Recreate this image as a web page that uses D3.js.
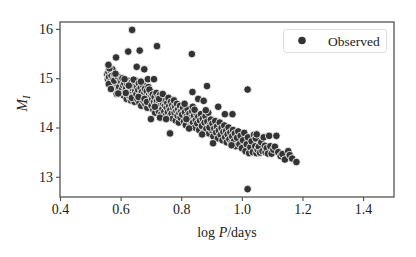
<!DOCTYPE html>
<html><head><meta charset="utf-8">
<script src="https://cdn.jsdelivr.net/npm/d3@7"></script>
<style>
html,body{margin:0;padding:0;background:#fff;}
svg{display:block;font-family:"Liberation Serif","Times New Roman",serif;}
svg text{font-family:"Liberation Serif","Times New Roman",serif;}
</style></head>
<body><svg id="c" width="416" height="257"></svg>
<script>
const logP = [
0.556,0.558,0.560,0.562,0.565,0.567,0.570,0.572,0.575,0.577,0.580,0.582,0.584,0.586,0.588,0.590,0.592,0.594,0.596,0.598,0.600,0.561,0.568,0.573,0.579,0.587,0.591,0.595,0.599,0.563,0.583,0.560,
0.602,0.604,0.606,0.608,0.610,0.612,0.614,0.616,0.618,0.620,0.622,0.624,0.626,0.628,0.630,0.632,0.634,0.636,0.638,0.640,0.642,0.644,0.646,0.648,0.650,0.613,0.627,0.637,0.643,0.617,
0.652,0.654,0.656,0.658,0.660,0.662,0.664,0.666,0.668,0.670,0.672,0.674,0.676,0.678,0.680,0.682,0.684,0.686,0.688,0.690,0.692,0.694,0.696,0.698,0.700,0.659,0.667,0.679,0.687,0.695,
0.702,0.704,0.706,0.708,0.710,0.712,0.714,0.716,0.718,0.720,0.722,0.724,0.726,0.728,0.730,0.732,0.734,0.736,0.738,0.740,0.742,0.744,0.746,0.748,0.750,0.713,0.727,0.739,
0.752,0.754,0.756,0.758,0.760,0.762,0.764,0.766,0.768,0.770,0.772,0.774,0.776,0.778,0.780,0.782,0.784,0.786,0.788,0.790,0.792,0.794,0.796,0.798,0.800,
0.803,0.806,0.809,0.812,0.815,0.818,0.821,0.824,0.827,0.830,0.833,0.836,0.839,0.842,0.845,0.848,0.850,0.811,0.826,0.838,0.817,0.844,
0.853,0.856,0.859,0.862,0.865,0.868,0.871,0.874,0.877,0.880,0.883,0.886,0.889,0.892,0.895,0.898,0.900,0.869,0.881,0.893,
0.903,0.906,0.909,0.912,0.915,0.918,0.921,0.924,0.927,0.930,0.933,0.936,0.939,0.942,0.945,0.948,0.905,0.950,
0.953,0.956,0.959,0.962,0.965,0.968,0.971,0.974,0.977,0.980,0.984,0.988,0.992,0.996,1.000,
1.004,1.008,1.012,1.016,1.020,1.024,1.028,1.032,1.036,1.040,1.044,1.048,1.052,1.046,
1.056,1.060,1.064,1.068,1.072,1.076,1.078,1.082,1.086,1.090,1.094,1.098,1.104,1.109,1.114,1.120,1.128,1.134,1.142,1.153,1.158,1.166,1.180,
0.638,0.720,0.663,0.625,0.585,0.653,0.678,0.835,0.885,1.019,0.837,0.856,0.874,0.922,0.944,0.969,1.049,0.966,0.700,0.730,0.750,0.763,1.019,0.592,0.690,0.710
];
const magI = [
15.08,14.98,15.12,15.02,14.92,15.15,15.05,14.85,14.97,15.10,14.90,15.01,14.80,14.94,15.06,14.87,14.75,14.99,14.91,14.70,14.83,14.88,14.78,15.18,14.95,14.68,15.03,14.82,14.96,15.20,15.09,15.27,
14.93,14.77,15.00,14.86,14.65,14.90,14.72,14.97,14.80,14.58,14.88,14.69,14.94,14.76,14.62,14.84,14.55,14.91,14.70,14.79,14.63,14.86,14.52,14.74,14.95,14.98,14.85,14.60,14.97,14.70,
14.68,14.82,14.57,14.76,14.90,14.50,14.66,14.80,14.44,14.72,14.60,14.86,14.53,14.69,14.78,14.47,14.63,14.74,14.40,14.56,14.82,14.66,14.49,14.61,14.72,14.62,14.93,14.58,14.52,14.77,
14.44,14.58,14.67,14.36,14.52,14.62,14.30,14.47,14.70,14.55,14.40,14.61,14.33,14.50,14.66,14.44,14.27,14.56,14.38,14.49,14.62,14.32,14.45,14.54,14.25,14.42,14.58,14.68,
14.40,14.50,14.31,14.60,14.43,14.22,14.36,14.52,14.28,14.45,14.18,14.39,14.55,14.30,14.42,14.14,14.34,14.48,14.24,14.37,14.10,14.29,14.44,14.20,14.33,
14.26,14.40,14.12,14.31,14.05,14.22,14.37,14.16,14.28,14.02,14.20,14.33,14.10,14.24,14.00,14.15,14.29,14.48,13.98,14.42,14.17,14.36,
14.08,14.22,13.95,14.14,14.27,14.03,14.18,13.90,14.10,14.23,13.97,14.12,14.30,13.88,14.05,14.16,13.95,13.86,14.35,14.00,
14.08,13.82,13.98,14.13,13.90,14.02,13.78,13.94,14.10,13.85,13.99,13.74,13.91,14.04,13.80,13.93,13.68,13.70,
13.86,14.00,13.76,13.90,13.68,13.82,13.95,13.72,13.88,13.62,13.79,13.92,13.66,13.83,13.58,
13.74,13.89,13.52,13.66,13.80,13.48,13.60,13.72,13.50,13.85,13.62,13.48,13.55,13.78,
13.61,13.49,13.70,13.52,13.80,13.63,13.50,13.58,13.47,13.83,13.62,13.47,13.55,13.61,13.83,13.50,13.42,13.46,13.35,13.52,13.44,13.37,13.30,
15.98,15.65,15.56,15.54,15.42,15.23,15.18,15.49,14.84,14.77,14.72,14.58,14.54,14.42,14.27,14.27,13.86,13.64,14.17,14.20,14.17,13.88,12.75,14.69,14.98,14.98
];
const xTicks = [0.4,0.6,0.8,1.0,1.2,1.4];
const yTicks = [13,14,15,16];
const legendLabel = "Observed";

const serif = "'Liberation Serif','Times New Roman',serif";
const svg = d3.select("#c");
const L=60, R=394, T=22, B=197;
const x = d3.scaleLinear().domain([0.4,1.502]).range([L,R]);
const y = d3.scaleLinear().domain([12.59,16.14]).range([B,T]);
const axisColor = "#4d4d4d";

const pts = logP.map((v,i)=>({x:v,y:magI[i]}));
svg.append("g").selectAll("circle").data(pts).join("circle")
  .attr("cx",d=>x(d.x)).attr("cy",d=>y(d.y)).attr("r",3.8)
  .attr("fill","#333333").attr("stroke","#ffffff").attr("stroke-width",0.8);

// frame
svg.append("rect").attr("x",L).attr("y",T).attr("width",R-L).attr("height",B-T)
  .attr("fill","none").attr("stroke",axisColor).attr("stroke-width",1.25);

const xa = svg.append("g").attr("transform",`translate(0,${B})`)
  .call(d3.axisBottom(x).tickValues(xTicks).tickFormat(d3.format(".1f")).tickSize(4).tickPadding(3));
const ya = svg.append("g").attr("transform",`translate(${L},0)`)
  .call(d3.axisLeft(y).tickValues(yTicks).tickFormat(d3.format("d")).tickSize(4).tickPadding(3));
[xa,ya].forEach(a=>{
  a.attr("font-family",serif).attr("font-size",14);
  a.select(".domain").remove();
  a.selectAll(".tick line").attr("stroke",axisColor).attr("stroke-width",1.1);
  a.selectAll(".tick text").attr("fill","#222222");
});

// x label
const xl = svg.append("text").attr("x",(L+R)/2).attr("y",237).attr("text-anchor","middle")
  .attr("fill","#222").attr("font-family",serif).attr("font-size",14);
xl.append("tspan").text("log ");
xl.append("tspan").attr("font-style","italic").text("P");
xl.append("tspan").text("/days");

// y label
const yl = svg.append("text").attr("transform",`translate(27,${(T+B)/2-6}) rotate(-90)`)
  .attr("text-anchor","middle").attr("fill","#222").attr("font-family",serif).attr("font-size",15).attr("font-style","italic");
yl.append("tspan").text("M");
yl.append("tspan").attr("dy",3).attr("font-size",10.5).text("I");

// legend
const lg = svg.append("g");
lg.append("rect").attr("x",283.5).attr("y",29.5).attr("width",103).attr("height",23).attr("rx",3)
  .attr("fill","#fff").attr("stroke","#d9d9d9").attr("stroke-width",0.9);
lg.append("circle").attr("cx",302).attr("cy",40.5).attr("r",3.8).attr("fill","#333333");
lg.append("text").attr("x",328).attr("y",45.5).attr("fill","#222").attr("font-family",serif).attr("font-size",13.5).text(legendLabel);
</script></body></html>
